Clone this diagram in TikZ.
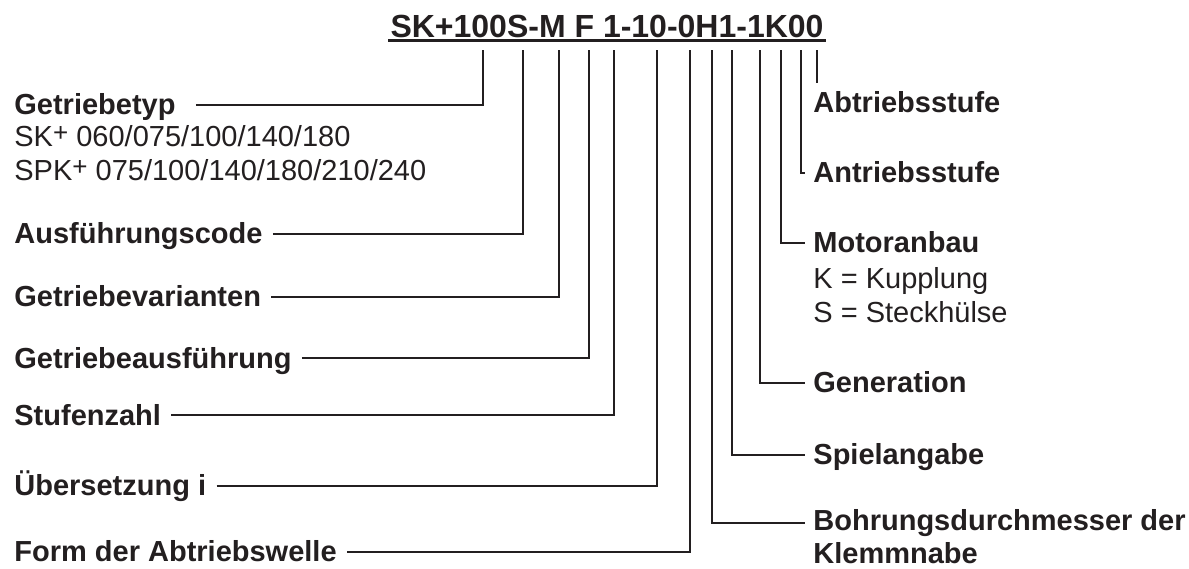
\documentclass[tikz,border=0pt]{standalone}
\usepackage{fontspec}
\setmainfont{Liberation Sans}
\usepackage{xcolor}
\usepackage{tikz}
\usetikzlibrary{positioning, calc}
\definecolor{tkInk}{HTML}{231F20}
\newcommand{\tkplus}{\raisebox{2.5pt}{\fontsize{13}{13}\selectfont +}}
\tikzset{
  codetitle/.style={font=\fontsize{16}{19}\selectfont\bfseries, text=tkInk,
                    inner xsep=1pt, inner ysep=0pt},
  codeleft/.style={anchor=base west, font=\fontsize{14.5}{17}\selectfont\bfseries,
                   text=tkInk, inner xsep=5pt, inner ysep=0pt},
  coderight/.style={anchor=base west, font=\fontsize{14.5}{17}\selectfont\bfseries,
                    text=tkInk, inner xsep=4pt, inner ysep=0pt, align=left},
  codesub/.style={anchor=base west, font=\fontsize{14.5}{17}\selectfont,
                  text=tkInk, inner sep=0pt, align=left},
  codelink/.style={draw=tkInk, line width=1pt},
}

\begin{document}
\begin{tikzpicture}[x=0.5pt, y=-0.5pt]
\useasboundingbox (0,0) rectangle (1189,568);
\node[codetitle, anchor=base east] (code) at (826,37) {SK+100S-M F 1-10-0H1-1K00};
\draw[codelink, line width=1.5pt] ([yshift=-1.8pt]code.base west) -- ([yshift=-1.8pt]code.base east);

% taps under the type code
\coordinate (pTyp) at (483,50);
\coordinate (pCode) at (523,50);
\coordinate (pVar) at (559,50);
\coordinate (pAusf) at (589,50);
\coordinate (pStuf) at (614,50);
\coordinate (pUeb) at (657,50);
\coordinate (pForm) at (690,50);
\coordinate (pBohr) at (712,50);
\coordinate (pSpiel) at (732,50);
\coordinate (pGen) at (760,50);
\coordinate (pMot) at (781,50);
\coordinate (pAntr) at (801,50);
\coordinate (pAbtr) at (817,50);

% left side (multi-line nodes sit on their last baseline)
\node[codeleft] (typ) at (4,114.6) {Getriebetyp};
\node[codesub, font=\fontsize{14.5}{16.6}\selectfont] (typlist) at (14,180) {SK\tkplus{} 060/075/100/140/180\\SPK\tkplus{} 075/100/140/180/210/240};
\node[codeleft] (ausfcode) at (4,243.6) {Ausführungscode};
\node[codeleft] (var) at (4,306.6) {Getriebevarianten};
\node[codeleft] (ausf) at (4,368) {Getriebeausführung};
\node[codeleft] (stuf) at (4,425) {Stufenzahl};
\node[codeleft] (ueb) at (4,495.6) {Übersetzung i};
\node[codeleft] (form) at (4,561.6) {Form der Abtriebswelle};

% right side
\node[coderight] (abtr) at (805,112) {Abtriebsstufe};
\node[coderight] (antr) at (805,182.6) {Antriebsstufe};
\node[coderight] (mot) at (805,252.6) {Motoranbau};
\node[codesub] (motlist) at (813,322) {K = Kupplung\\S = Steckhülse};
\node[coderight] (gen) at (805,392.6) {Generation};
\node[coderight] (spiel) at (805,464.6) {Spielangabe};
\node[coderight, font=\fontsize{14.5}{16.2}\selectfont\bfseries] (bohr) at (805,563) {Bohrungsdurchmesser der\\Klemmnabe};

\draw[codelink] ([xshift=5pt,yshift=4.8pt]typ.base east) -| (pTyp);
\draw[codelink] ([yshift=4.8pt]ausfcode.base east) -| (pCode);
\draw[codelink] ([yshift=4.8pt]var.base east) -| (pVar);
\draw[codelink] ([yshift=4.8pt]ausf.base east) -| (pAusf);
\draw[codelink] ([yshift=4.8pt]stuf.base east) -| (pStuf);
\draw[codelink] ([yshift=4.8pt]ueb.base east) -| (pUeb);
\draw[codelink] ([yshift=4.8pt]form.base east) -| (pForm);

\draw[codelink] (pAbtr) -- ([yshift=4pt]pAbtr |- abtr.north);
\draw[codelink] (pAntr) |- ([yshift=4.8pt]antr.base west);
\draw[codelink] (pMot) |- ([yshift=4.8pt]mot.base west);
\draw[codelink] (pGen) |- ([yshift=4.8pt]gen.base west);
\draw[codelink] (pSpiel) |- ([yshift=4.8pt]spiel.base west);
\draw[codelink] (pBohr) |- ([yshift=20pt]bohr.base west);
\end{tikzpicture}
\end{document}
